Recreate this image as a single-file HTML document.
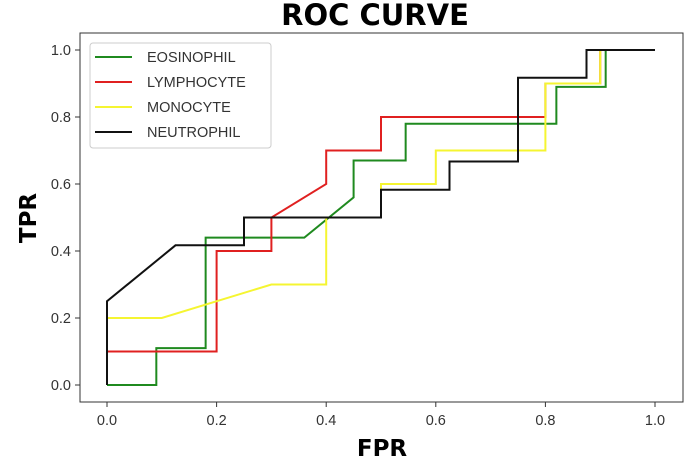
<!DOCTYPE html>
<html><head><meta charset="utf-8"><style>
body{margin:0;background:#fff;width:685px;height:460px;overflow:hidden}
svg{font-family:"Liberation Sans","DejaVu Sans",sans-serif}
</style></head><body>
<svg id="chart" width="685" height="460">
<text x="375" y="25" text-anchor="middle" font-size="29" font-weight="bold" font-family="DejaVu Sans, sans-serif">ROC CURVE</text>
<rect x="80" y="33" width="603" height="369" fill="none" stroke="#333" stroke-width="1"/>
<g id="xt"></g>
<g id="yt"></g>
<g id="series"></g>
<text x="382" y="456" text-anchor="middle" font-size="23" font-weight="bold" font-family="DejaVu Sans, sans-serif">FPR</text>
<text x="0" y="0" transform="translate(36,218) rotate(-90)" text-anchor="middle" font-size="23" font-weight="bold" font-family="DejaVu Sans, sans-serif">TPR</text>
<g id="legend"><rect x="90" y="43" width="181" height="105" rx="3" fill="#fff" fill-opacity="0.85" stroke="#ccc"/></g>
</svg>
<script>
const xTicks=[0,0.2,0.4,0.6,0.8,1.0];
const yTicks=[0,0.2,0.4,0.6,0.8,1.0];
const seriesNames=["EOSINOPHIL","LYMPHOCYTE","MONOCYTE","NEUTROPHIL"];
const seriesColors=["#1f8a1f","#e02020","#f5f531","#111111"];
const eosFPR=[0,0.09,0.09,0.18,0.18,0.36,0.45,0.45,0.545,0.545,0.82,0.82,0.91,0.91,1];
const eosTPR=[0,0,0.11,0.11,0.44,0.44,0.56,0.67,0.67,0.78,0.78,0.89,0.89,1,1];
const lymFPR=[0,0,0.2,0.2,0.3,0.3,0.4,0.4,0.5,0.5,0.8,0.8,0.9,0.9,1];
const lymTPR=[0,0.1,0.1,0.4,0.4,0.5,0.6,0.7,0.7,0.8,0.8,0.9,0.9,1,1];
const monFPR=[0,0,0.1,0.3,0.4,0.4,0.5,0.5,0.6,0.6,0.8,0.8,0.9,0.9,1];
const monTPR=[0,0.2,0.2,0.3,0.3,0.5,0.5,0.6,0.6,0.7,0.7,0.9,0.9,1,1];
const neuFPR=[0,0,0.125,0.25,0.25,0.5,0.5,0.625,0.625,0.75,0.75,0.875,0.875,1];
const neuTPR=[0,0.25,0.417,0.417,0.5,0.5,0.583,0.583,0.667,0.667,0.917,0.917,1,1];
const NS="http://www.w3.org/2000/svg";
const X=v=>107+v*548, Y=v=>385-v*335;
function mk(t,a,p){const e=document.createElementNS(NS,t);for(const k in a)e.setAttribute(k,a[k]);p.appendChild(e);return e;}
const xt=document.getElementById('xt'),yt=document.getElementById('yt');
xTicks.forEach(v=>{
 const l=mk('line',{x1:X(v),x2:X(v),y1:402,y2:407,stroke:'#333'},xt);
 
 
 const t=mk('text',{x:X(v),y:425,'text-anchor':'middle','font-size':'14.5',fill:'#333'},xt);t.textContent=v.toFixed(1);
 
 
});
yTicks.forEach(v=>{
 const l=mk('line',{x1:75,x2:80,y1:Y(v),y2:Y(v),stroke:'#333'},yt);
 
 
 const t=mk('text',{x:71,y:Y(v)+5,'text-anchor':'end','font-size':'14.5',fill:'#333'},yt);t.textContent=v.toFixed(1);
 
 
});
const data=[[eosFPR,eosTPR],[lymFPR,lymTPR],[monFPR,monTPR],[neuFPR,neuTPR]];
const sg=document.getElementById('series'),lg=document.getElementById('legend');
data.forEach((d,i)=>{
 const pts=d[0].map((x,j)=>X(x)+','+Y(d[1][j])).join(' ');
 const p=mk('polyline',{points:pts,fill:'none',stroke:seriesColors[i],'stroke-width':'2'},sg);
 
 
 const y=57+i*25;
 const ll=mk('line',{x1:95,x2:132,y1:y,y2:y,stroke:seriesColors[i],'stroke-width':'2'},lg);
 
 
 const lt=mk('text',{x:147,y:y+5,'font-size':'14.5',fill:'#333'},lg);lt.textContent=seriesNames[i];
 
 
});
</script>
</body></html>
